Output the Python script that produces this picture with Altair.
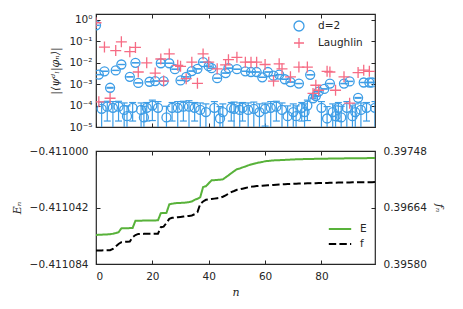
import altair as alt
import pandas as pd

# ---------------- data ----------------
n_index = list(range(100))

d2_overlap = [
    5.6e-1, 2.8e-3, 7.1e-5, 4.0e-3, 8.9e-5, 6.8e-4, 7.9e-5, 4.4e-3, 8.9e-5, 8.3e-3,
    6.3e-5, 3.2e-5, 2.2e-3, 7.9e-5, 1.0e-2, 1.15e-3, 6.3e-5, 2.8e-5, 7.9e-5, 1.3e-3,
    1.0e-4, 1.4e-3, 7.9e-5, 9.5e-3, 1.4e-3, 2.8e-5, 9.5e-3, 7.9e-5, 5.0e-3, 7.9e-5,
    1.5e-3, 8.9e-5, 2.2e-3, 8.9e-5, 4.1e-3, 7.9e-5, 5.2e-3, 6.3e-5, 1.07e-2, 5.0e-5,
    6.9e-3, 5.6e-3, 7.9e-5, 1.9e-3, 2.5e-5, 5.0e-5, 3.3e-3, 5.6e-3, 7.9e-5, 7.1e-5,
    5.0e-3, 6.3e-5, 7.9e-5, 4.0e-3, 6.3e-5, 3.7e-3, 7.1e-5, 3.7e-3, 5.0e-5, 2.1e-3,
    7.1e-5, 3.7e-3, 7.9e-5, 2.5e-3, 8.9e-5, 2.8e-3, 6.3e-5, 1.7e-3, 3.2e-5, 1.26e-3,
    5.0e-5, 3.2e-5, 1.07e-3, 7.9e-5, 5.0e-5, 1.0e-4, 2.75e-3, 2.2e-4, 2.8e-4, 4.5e-4,
    7.9e-5, 6.0e-4, 2.5e-5, 1.07e-3, 5.0e-5, 3.2e-5, 7.9e-5, 2.8e-5, 1.07e-3, 7.9e-5,
    1.35e-3, 3.2e-5, 5.0e-5, 2.3e-4, 6.3e-5, 1.2e-3, 7.9e-5, 1.2e-3, 1.2e-3, 7.9e-5,
]

d2_error = [
    5e-3, 4e-5, 7.5e-5, 5e-5, 7e-5, 3e-5, 7.5e-5, 5e-5, 7e-5, 1e-4,
    7e-5, 6.5e-5, 3e-5, 6e-5, 1e-4, 2e-5, 7e-5, 6.5e-5, 6e-5, 2e-5,
    8e-5, 2e-5, 7.5e-5, 1e-4, 2e-5, 6.5e-5, 1e-4, 6e-5, 5e-5, 7.5e-5,
    2e-5, 7e-5, 3e-5, 8e-5, 5e-5, 6e-5, 5e-5, 7e-5, 1e-4, 7e-5,
    7e-5, 5e-5, 7.5e-5, 3e-5, 6.5e-5, 7e-5, 4e-5, 5e-5, 6e-5, 7.5e-5,
    5e-5, 7e-5, 6e-5, 4e-5, 7e-5, 4e-5, 7.5e-5, 4e-5, 7e-5, 3e-5,
    6e-5, 4e-5, 7.5e-5, 3e-5, 7e-5, 3e-5, 7e-5, 2e-5, 6.5e-5, 2e-5,
    7e-5, 6.5e-5, 2e-5, 6e-5, 7e-5, 8e-5, 3e-5, 1e-5, 1e-5, 1e-5,
    7.5e-5, 1e-5, 6.5e-5, 2e-5, 7e-5, 6.5e-5, 6e-5, 6.5e-5, 2e-5, 7.5e-5,
    2e-5, 6.5e-5, 7e-5, 1e-5, 7e-5, 2e-5, 6e-5, 2e-5, 2e-5, 7.5e-5,
]

laughlin_overlap = [
    7.4e-1, 1.5e-4, None, 5.4e-2, None, 2.2e-4, None, 3.7e-2, None, 9.5e-2,
    None, None, 3.3e-2, None, 5.2e-2, 3.7e-3, None, None, 1.0e-2, None,
    None, 3.3e-3, None, 1.5e-2, 1.4e-3, None, 2.6e-2, None, None, 7.6e-3,
    6.8e-3, None, 1.8e-3, None, 1.07e-2, None, 1.1e-3, None, 2.6e-2, None,
    1.07e-2, None, None, 5.2e-3, None, None, 7.9e-3, 1.4e-2, None, None,
    1.8e-2, None, None, 1.07e-2, None, 1.07e-2, None, 1.07e-2, None, None,
    8.3e-3, None, None, 1.4e-3, None, 8.9e-3, 5.2e-3, None, None, 2.2e-3,
    None, None, 6.3e-3, None, None, 6.3e-3, None, 3.7e-4, 8.9e-4, 5.2e-4,
    None, None, 4.0e-3, 3.7e-3, None, 5.2e-4, None, None, 2.2e-3, None,
    1.3e-4, None, None, 3.5e-3, None, 4.5e-3, None, 4.0e-3, None, None,
]

energy = [
    -0.4110624, -0.4110623, -0.4110622, -0.4110621, -0.4110620, -0.4110618, -0.4110615, -0.4110610, -0.4110604, -0.4110575,
    -0.4110574, -0.4110574, -0.4110573, -0.4110572, -0.4110518, -0.4110518, -0.4110518, -0.4110517, -0.4110517, -0.4110517,
    -0.4110516, -0.4110516, -0.4110515, -0.4110462, -0.4110461, -0.4110460, -0.4110397, -0.4110392, -0.4110388, -0.4110387,
    -0.4110386, -0.4110385, -0.4110383, -0.4110380, -0.4110375, -0.4110363, -0.4110355, -0.4110343, -0.4110268, -0.4110262,
    -0.4110240, -0.4110218, -0.4110217, -0.4110215, -0.4110213, -0.4110211, -0.4110196, -0.4110181, -0.4110165, -0.4110150,
    -0.4110135, -0.4110130, -0.4110122, -0.4110115, -0.4110107, -0.4110100, -0.4110095, -0.4110090, -0.4110085, -0.4110082,
    -0.4110076, -0.4110074, -0.4110072, -0.4110070, -0.4110069, -0.4110068, -0.4110067, -0.4110066, -0.4110065, -0.4110064,
    -0.4110063, -0.4110062, -0.4110061, -0.4110061, -0.4110060, -0.4110060, -0.4110059, -0.4110059, -0.4110058, -0.4110058,
    -0.4110057, -0.4110057, -0.4110057, -0.4110056, -0.4110056, -0.4110056, -0.4110055, -0.4110055, -0.4110055, -0.4110054,
    -0.4110054, -0.4110054, -0.4110054, -0.4110053, -0.4110053, -0.4110053, -0.4110053, -0.4110052, -0.4110052, -0.4110052,
]

fidelity = [
    0.396000, 0.396001, 0.396002, 0.396003, 0.396004, 0.396006, 0.396024, 0.396060, 0.396098, 0.396124,
    0.396128, 0.396131, 0.396134, 0.396198, 0.396230, 0.396247, 0.396247, 0.396248, 0.396248, 0.396249,
    0.396249, 0.396250, 0.396250, 0.396347, 0.396355, 0.396410, 0.396471, 0.396486, 0.396490, 0.396495,
    0.396500, 0.396505, 0.396510, 0.396515, 0.396522, 0.396540, 0.396571, 0.396694, 0.396730, 0.396754,
    0.396760, 0.396766, 0.396772, 0.396778, 0.396784, 0.396800, 0.396820, 0.396845, 0.396869, 0.396885,
    0.396903, 0.396910, 0.396920, 0.396930, 0.396940, 0.396948, 0.396954, 0.396958, 0.396961, 0.396964,
    0.396967, 0.396970, 0.396973, 0.396976, 0.396979, 0.396982, 0.396984, 0.396986, 0.396988, 0.396990,
    0.396992, 0.396994, 0.396996, 0.396997, 0.396998, 0.396999, 0.397000, 0.397001, 0.397002, 0.397003,
    0.397004, 0.397005, 0.397006, 0.397007, 0.397008, 0.397009, 0.397010, 0.397011, 0.397011, 0.397012,
    0.397013, 0.397014, 0.397014, 0.397015, 0.397015, 0.397016, 0.397016, 0.397017, 0.397017, 0.397018,
]

overlap_series = ["d=2", "Laughlin"]
line_series = ["E", "f"]
x_ticks = [0, 20, 40, 60, 80]
overlap_ticks = [1e-5, 1e-4, 1e-3, 1e-2, 1e-1, 1]
overlap_tick_labels = ["10⁻⁵", "10⁻⁴", "10⁻³", "10⁻²", "10⁻¹", "10⁰"]
energy_ticks = [-0.411084, -0.411042, -0.411000]
fidelity_ticks = [0.39580, 0.39664, 0.39748]

# ---------------- tables ----------------
d2_df = pd.DataFrame({"n": n_index, "value": d2_overlap, "series": "d=2"})
la_df = pd.DataFrame([
    {"n": i, "value": v, "series": "Laughlin"}
    for i, v in zip(n_index, laughlin_overlap) if v is not None
])

err = pd.DataFrame({
    "n": n_index,
    "lo": [max(v - e, 1e-7) for v, e in zip(d2_overlap, d2_error)],
    "hi": [v + e for v, e in zip(d2_overlap, d2_error)],
})

e_df = pd.DataFrame({"n": n_index, "value": energy, "series": "E"})
f_df = pd.DataFrame({"n": n_index, "value": fidelity, "series": "f"})

# ---------------- styles ----------------
BLUE = "#3d9de6"
PINK = "#f66b84"
GREEN = "#58b23a"
INK = "#262626"
PLUS = "M-1,0L1,0M0,-1L0,1"
LEGEND_LINE = "M-1.4,0L1.4,0"

inward = dict(offset=-4, tickSize=4, domain=False, grid=False, tickColor=INK, tickWidth=1,
              minExtent=0)

label_expr = " : ".join(
    f"datum.value < {t * 3:g} ? '{lab}'" for t, lab in zip(overlap_ticks[:-1], overlap_tick_labels[:-1])
) + f" : '{overlap_tick_labels[-1]}'"

x_scale = alt.Scale(domain=[0, 99], nice=False, zero=False)
y_scale = alt.Scale(type="log", domain=[1e-5, 1.9], nice=False)
color_pts = alt.Scale(domain=overlap_series, range=[BLUE, PINK])
shape_pts = alt.Scale(domain=overlap_series, range=["circle", PLUS])

legend_top = alt.Legend(title=None, orient="none", legendX=197, legendY=6, padding=0,
                        labelOffset=13, rowPadding=1, symbolSize=100, symbolStrokeWidth=1.3)

# ---------------- top panel ----------------
bars = alt.Chart(err).mark_rule(color=BLUE, strokeWidth=1.2, clip=True).encode(
    x=alt.X("n:Q", scale=x_scale, axis=None),
    y=alt.Y("lo:Q", scale=y_scale, axis=None),
    y2="hi:Q",
)
caps_lo = alt.Chart(err).mark_tick(color=BLUE, orient="horizontal", thickness=1.2, size=7,
                                   opacity=1, clip=True).encode(
    x=alt.X("n:Q", scale=x_scale, axis=None),
    y=alt.Y("lo:Q", scale=y_scale, axis=None),
)
caps_hi = alt.Chart(err).mark_tick(color=BLUE, orient="horizontal", thickness=1.2, size=7,
                                   opacity=1, clip=True).encode(
    x=alt.X("n:Q", scale=x_scale, axis=None),
    y=alt.Y("hi:Q", scale=y_scale, axis=None),
)
d2_points = alt.Chart(d2_df).mark_point(filled=False, strokeWidth=1.3, opacity=1, size=81,
                                        clip=True).encode(
    x=alt.X("n:Q", scale=x_scale,
            axis=alt.Axis(orient="bottom", values=x_ticks, labels=False, title=None, **inward)),
    y=alt.Y("value:Q", scale=y_scale,
            axis=alt.Axis(orient="left", values=overlap_ticks, labelExpr=label_expr,
                          labelPadding=4, title="|⟨ψᵈₗ|φₙ⟩|", titlePadding=8, **inward)),
    color=alt.Color("series:N", scale=color_pts, legend=legend_top),
    shape=alt.Shape("series:N", scale=shape_pts, legend=legend_top),
)
la_points = alt.Chart(la_df).mark_point(filled=False, strokeWidth=1.3, opacity=1, size=121,
                                        clip=True).encode(
    x=alt.X("n:Q", scale=x_scale, axis=None),
    y=alt.Y("value:Q", scale=y_scale, axis=None),
    color=alt.Color("series:N", scale=color_pts, legend=legend_top),
    shape=alt.Shape("series:N", scale=shape_pts, legend=legend_top),
)
top_axes = alt.Chart(d2_df).mark_point(opacity=0, clip=True).encode(
    x=alt.X("n:Q", scale=x_scale,
            axis=alt.Axis(orient="top", values=x_ticks, labels=False, title=None, **inward)),
    y=alt.Y("value:Q", scale=y_scale,
            axis=alt.Axis(orient="right", values=overlap_ticks, labels=False, title=None, **inward)),
)
top = alt.layer(bars, caps_lo, caps_hi, d2_points, la_points, top_axes).resolve_axis(
    x="independent", y="independent").properties(width=279, height=113)

# ---------------- bottom panel ----------------
e_scale = alt.Scale(domain=[energy_ticks[0], energy_ticks[-1]], nice=False, zero=False)
f_scale = alt.Scale(domain=[fidelity_ticks[0], fidelity_ticks[-1]], nice=False, zero=False)
color_lines = alt.Scale(domain=line_series, range=[GREEN, "#000000"])
dash_lines = alt.Scale(domain=line_series, range=[[1, 0], [7.4, 3.2]])
legend_bot = alt.Legend(title=None, orient="none", legendX=235, legendY=69, padding=0,
                        symbolType=LEGEND_LINE, symbolSize=256, symbolStrokeWidth=2,
                        symbolFillColor="transparent", labelOffset=11, rowPadding=0)

e_line = alt.Chart(e_df).mark_line(strokeWidth=2, clip=True).encode(
    x=alt.X("n:Q", scale=x_scale,
            axis=alt.Axis(orient="bottom", values=x_ticks, title="n", labelPadding=7,
                          titlePadding=5, **inward)),
    y=alt.Y("value:Q", scale=e_scale,
            axis=alt.Axis(orient="left", values=energy_ticks, format=".6f", labelPadding=8,
                          title="Eₙ", titlePadding=7, **inward)),
    color=alt.Color("series:N", scale=color_lines, legend=legend_bot),
    strokeDash=alt.StrokeDash("series:N", scale=dash_lines, legend=legend_bot),
)
f_line = alt.Chart(f_df).mark_line(strokeWidth=2, clip=True).encode(
    x=alt.X("n:Q", scale=x_scale, axis=None),
    y=alt.Y("value:Q", scale=f_scale,
            axis=alt.Axis(orient="right", values=fidelity_ticks, format=".5f", labelPadding=8,
                          title="fₙ", titlePadding=7, **inward)),
    color=alt.Color("series:N", scale=color_lines, legend=legend_bot),
    strokeDash=alt.StrokeDash("series:N", scale=dash_lines, legend=legend_bot),
)
bot_axes = alt.Chart(e_df).mark_point(opacity=0, clip=True).encode(
    x=alt.X("n:Q", scale=x_scale,
            axis=alt.Axis(orient="top", values=x_ticks, labels=False, title=None, **inward)),
    y=alt.Y("value:Q", scale=e_scale, axis=None),
)
bottom = alt.layer(e_line, f_line, bot_axes).resolve_scale(y="independent").resolve_axis(
    x="independent").properties(width=279, height=113)

chart = alt.vconcat(top, bottom, spacing=11).resolve_scale(
    color="independent", shape="independent", strokeDash="independent"
).properties(
    padding={"left": 2, "top": 4, "right": 5, "bottom": 2}
).configure_view(
    stroke=INK, strokeWidth=1.2
).configure_axis(
    labelFont="DejaVu Sans", labelFontSize=10.5, labelColor=INK,
    titleFont="DejaVu Serif", titleFontStyle="italic", titleFontWeight="normal",
    titleColor=INK, titleFontSize=11,
).configure_legend(
    labelFont="DejaVu Sans", labelFontSize=10.5, labelColor=INK,
)

chart.save("out.html", embed_options={"renderer": "svg", "actions": False})
